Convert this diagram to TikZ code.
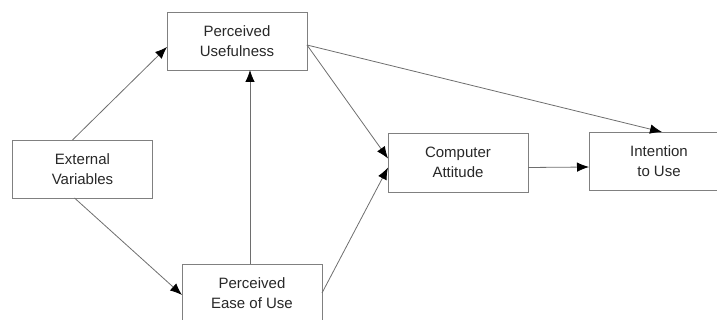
\documentclass[tikz,border=0pt]{standalone}
\usepackage{fontspec}
\setmainfont{Liberation Sans}
\usetikzlibrary{arrows.meta}
\usetikzlibrary{positioning}
\definecolor{boxline}{RGB}{128,128,128}
\definecolor{arrline}{RGB}{110,110,110}
\definecolor{txt}{RGB}{40,40,40}
\tikzstyle{base}=[x=1pt, y=-1pt, outer sep=0pt]
\tikzstyle{box}=[draw=boxline, line width=0.9pt, fill=white, align=center, text=txt,
    minimum width=140pt, minimum height=58pt, inner sep=0pt, font=\fontsize{15}{20}\selectfont]
\tikzstyle{arr}=[draw=arrline, line width=0.8pt, -{Latex[length=12pt,width=9.5pt,color=black]}]
\begin{document}
\begin{tikzpicture}[base]
    \clip (0,0) rectangle (717,320);
        \node [box] (ev) at (82.5,169) {External\\Variables};
        \node [box] (pu) at (237,41) {Perceived\\Usefulness};
        \node [box] (peou) at (252,293) {Perceived\\Ease of Use};
        \node [box, minimum height=59pt] (ca) at (458,162.5) {Computer\\Attitude};
        \node [box] (itu) at (659,161) {Intention\\to Use};
        \draw [arr] ([xshift=-10pt]ev.north) -- ([yshift=-6pt]pu.west);
        \draw [arr] ([xshift=-8pt]ev.south) -- ([yshift=-2pt]peou.west);
        \draw [arr] ([xshift=-2pt]peou.north) -- ([xshift=13pt]pu.south);
        \draw [arr] ([yshift=-4pt]pu.east) -- ([yshift=4pt]ca.west);
        \draw [arr] (peou.east) -- ([yshift=-5pt]ca.west);
        \draw [arr] ([yshift=-4pt]pu.east) -- ([xshift=3pt]itu.north);
        \draw [arr] ([yshift=-5pt]ca.east) -- ([yshift=-6pt]itu.west);
    \end{tikzpicture}
\end{document}
